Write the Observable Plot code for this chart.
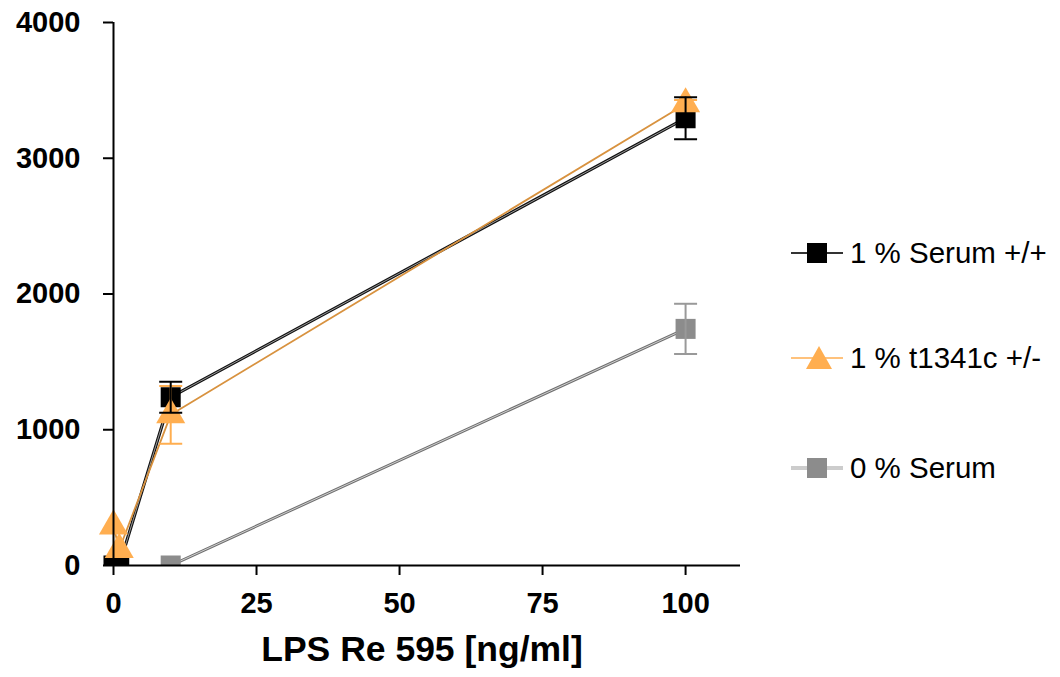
<!DOCTYPE html>
<html>
<head>
<meta charset="utf-8">
<script src="https://cdn.jsdelivr.net/npm/d3@7"></script>
<script src="https://cdn.jsdelivr.net/npm/@observablehq/plot@0.6"></script>
<style>
  html, body { margin: 0; padding: 0; background: white; }
  #wrap { position: relative; width: 1060px; height: 677px; }
  .leg-row { position: absolute; left: 788px; height: 36px; display: flex; align-items: center;
    font: 29.5px Arial, "Liberation Sans", sans-serif; color: #000; white-space: nowrap; }
  .leg-row svg { margin-right: 6px; }
</style>
</head>
<body>
<div id="wrap"></div>
<script>
// ---- data ----
const seriesNames = ["1 % Serum +/+", "1 % t1341c +/-", "0 % Serum"];

const dosesA = [0, 1, 10, 100];
const serumPP = [0, 0, 1240, 3295];
const serumPPErr = [0, 0, 114, 155];

const dosesB = [0, 1, 10, 100];
const t1341c = [290, 118, 1110, 3400];
const t1341cErr = [0, 0, 213, 30];

const dosesC = [10, 100];
const serum0 = [0, 1743];
const serum0Err = [0, 185];

const xTicks = [0, 25, 50, 75, 100];
const yTicks = [0, 1000, 2000, 3000, 4000];

const colors = { black: "#000000", orange: "#FFAE50", gray: "#8C8C8C" };

// ---- tables ----
const mk = (xs, ys, es, s) => xs.map((x, i) => ({ series: s, x, y: ys[i], lo: ys[i] - es[i], hi: ys[i] + es[i], e: es[i] }));
const A = mk(dosesA, serumPP, serumPPErr, seriesNames[0]);
const B = mk(dosesB, t1341c, t1341cErr, seriesNames[1]);
const C = mk(dosesC, serum0, serum0Err, seriesNames[2]);
const withErr = d => d.filter(r => r.e > 0);

// horizontal cap symbol for error bars
const capSymbol = {
  draw(ctx, size) { const r = Math.sqrt(size / Math.PI); ctx.moveTo(-r, 0); ctx.lineTo(r, 0); }
};

const errMarks = (data, color) => [
  Plot.ruleX(withErr(data), { x: "x", y1: "lo", y2: "hi", stroke: color, strokeWidth: 2 }),
  Plot.dot(withErr(data), { x: "x", y: "lo", symbol: capSymbol, r: 11.5, stroke: color, fill: "none", strokeWidth: 2 }),
  Plot.dot(withErr(data), { x: "x", y: "hi", symbol: capSymbol, r: 11.5, stroke: color, fill: "none", strokeWidth: 2 })
];

const chart = Plot.plot({
  width: 1060,
  height: 677,
  marginLeft: 113,
  marginRight: 320,
  marginTop: 22,
  marginBottom: 112,
  style: { fontFamily: "Arial, 'Liberation Sans', sans-serif", fontSize: "29px", fontWeight: "bold", color: "#000", background: "white", overflow: "visible" },
  x: { domain: [0, 109.6] },
  y: { domain: [0, 4000] },
  marks: [
    // connecting lines
    Plot.line(C, { x: "x", y: "y", stroke: "#707070", strokeWidth: 3 }),
    Plot.line(C, { x: "x", y: "y", stroke: "#d0d0d0", strokeWidth: 1 }),
    Plot.line(A, { x: "x", y: "y", stroke: "#111", strokeWidth: 3.2 }),
    Plot.line(A, { x: "x", y: "y", stroke: "#9a9a9a", strokeWidth: 1 }),
    Plot.line(B, { x: "x", y: "y", stroke: "#D8923F", strokeWidth: 1.8 }),
    // markers
    Plot.dot(C, { x: "x", y: "y", symbol: "square", r: 11.3, fill: colors.gray }),
    Plot.dot(A, { x: "x", y: "y", symbol: "square", r: 11.3, fill: colors.black }),
    Plot.dot(B, { x: "x", y: "y", symbol: "triangle", r: 10.8, fill: colors.orange }),
    // error bars
    ...errMarks(C, "#999999"),
    ...errMarks(B, colors.orange),
    ...errMarks(A, colors.black),
    // axes
    Plot.axisY({ ticks: yTicks, tickSize: 10, tickPadding: 23, tickFormat: d => String(d), label: null, strokeWidth: 2 }),
    Plot.axisX({ ticks: xTicks, tickSize: 10, tickPadding: 17, tickFormat: d => String(d), label: null, strokeWidth: 2 }),
    Plot.ruleX([0], { strokeWidth: 2, stroke: "#000" }),
    Plot.ruleY([0], { strokeWidth: 2, stroke: "#000" }),
    Plot.text(["LPS Re 595 [ng/ml]"], { frameAnchor: "bottom", dy: 95, dx: -5, fontSize: 35.5, fontWeight: "bold", fill: "#000" })
  ]
});

// clip data marks at the x axis (values at 0 show only their upper half, as in the reference)
const svg = d3.select(chart);
const yS = chart.scale("y");
const clipId = "below-axis-clip";
svg.insert("defs", ":first-child").append("clipPath").attr("id", clipId)
  .append("rect").attr("x", 0).attr("y", 0).attr("width", 1060).attr("height", yS.apply(0));
svg.selectAll('g[aria-label="dot"], g[aria-label="line"]').attr("clip-path", `url(#${clipId})`);

const wrap = document.getElementById("wrap");
wrap.appendChild(chart);

// ---- legend (HTML, to the right of the plot) ----
const legendRows = [
  { name: seriesNames[0], top: 235, kind: "square", fill: colors.black, line: ["#333", 2, null] },
  { name: seriesNames[1], top: 340, kind: "triangle", fill: colors.orange, line: [colors.orange, 1.6, null] },
  { name: seriesNames[2], top: 450, kind: "square", fill: colors.gray, line: ["#9a9a9a", 3, "#ffffff"] }
];
for (const r of legendRows) {
  const row = document.createElement("div");
  row.className = "leg-row";
  row.style.top = r.top + "px";
  const s = d3.create("svg").attr("width", 56).attr("height", 36);
  s.append("line").attr("x1", 3).attr("x2", 55).attr("y1", 18).attr("y2", 18).attr("stroke", r.line[0]).attr("stroke-width", r.line[1]);
  if (r.line[2]) s.append("line").attr("x1", 3).attr("x2", 55).attr("y1", 18).attr("y2", 18).attr("stroke", r.line[2]).attr("stroke-width", 1);
  if (r.kind === "square") {
    s.append("rect").attr("x", 19).attr("y", 8).attr("width", 20).attr("height", 20).attr("fill", r.fill);
  } else {
    s.append("path").attr("d", "M31,6 L44,29 L18,29 Z").attr("fill", r.fill);
  }
  row.appendChild(s.node());
  const t = document.createElement("span");
  t.textContent = r.name;
  row.appendChild(t);
  wrap.appendChild(row);
}
</script>
</body>
</html>
